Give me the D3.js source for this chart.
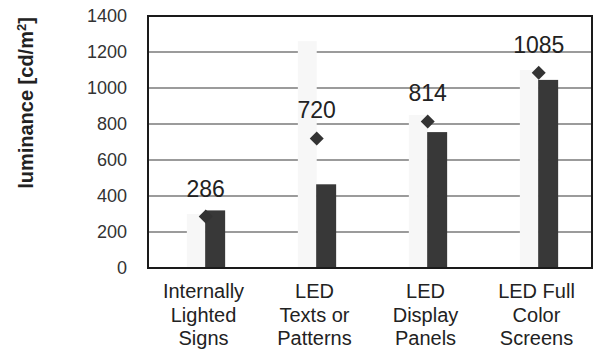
<!DOCTYPE html>
<html>
<head>
<meta charset="utf-8">
<script src="https://cdn.jsdelivr.net/npm/d3@7/dist/d3.min.js"></script>
<style>
  html, body { margin: 0; padding: 0; background: #fff; }
  svg { display: block; font-family: Arial, "Liberation Sans", sans-serif; }
</style>
</head>
<body>
<svg id="chart" width="596" height="351"></svg>
<script>
// Luminance by sign type
const categories = [
  ["Internally", "Lighted", "Signs"],
  ["LED", "Texts or", "Patterns"],
  ["LED", "Display", "Panels"],
  ["LED Full", "Color", "Screens"]
];
const upperValues = [300, 1260, 850, 1100];   // pale background bars
const barValues = [320, 465, 755, 1045];      // dark bars
const meanValues = [286, 720, 814, 1085];     // diamonds with labels
const yTicks = [0, 200, 400, 600, 800, 1000, 1200, 1400];

const svg = d3.select("#chart");
const plot = { left: 148, right: 592, top: 16, bottom: 268 };

const keys = categories.map((c, i) => i);
const x = d3.scaleBand().domain(keys).range([plot.left, plot.right]).padding(0);
const y = d3.scaleLinear().domain([0, 1400]).range([plot.bottom, plot.top]);
const bw = x.bandwidth();

// Grid lines
svg.append("g")
  .selectAll("line")
  .data(yTicks.filter(t => t > 0 && t < 1400))
  .join("line")
  .attr("x1", plot.left).attr("x2", plot.right)
  .attr("y1", d => y(d)).attr("y2", d => y(d))
  .attr("stroke", "#7a7a7a").attr("stroke-width", 1.5);

// Pale bars
svg.append("g")
  .selectAll("rect")
  .data(upperValues)
  .join("rect")
  .attr("x", (d, i) => x(i) + bw * 0.35)
  .attr("width", bw * 0.17)
  .attr("y", d => y(d))
  .attr("height", d => y(0) - y(d))
  .attr("fill", "#f7f7f7");

// Dark bars
svg.append("g")
  .selectAll("rect")
  .data(barValues)
  .join("rect")
  .attr("x", (d, i) => x(i) + bw * 0.515)
  .attr("width", bw * 0.18)
  .attr("y", d => y(d))
  .attr("height", d => y(0) - y(d))
  .attr("fill", "#383838");

// Plot frame
svg.append("rect")
  .attr("x", plot.left).attr("y", plot.top)
  .attr("width", plot.right - plot.left).attr("height", plot.bottom - plot.top)
  .attr("fill", "none").attr("stroke", "#1a1a1a").attr("stroke-width", 2);

// Y axis labels
const yAxis = d3.axisLeft(y).tickValues(yTicks).tickFormat(d3.format("d")).tickSize(0).tickPadding(21);
const gy = svg.append("g").attr("transform", `translate(${plot.left},0)`).call(yAxis);
gy.select(".domain").remove();
gy.selectAll("text")
  .attr("font-size", 18)
  .attr("fill", "#333")
  .attr("font-family", "Arial, 'Liberation Sans', sans-serif");

// Diamonds
const r = 7;
const mx = i => x(i) + bw * 0.52;
svg.append("g")
  .selectAll("path")
  .data(meanValues)
  .join("path")
  .attr("transform", (d, i) => `translate(${mx(i)},${y(d)})`)
  .attr("d", `M0,${-r}L${r},0L0,${r}L${-r},0Z`)
  .attr("fill", "#333");

// Value labels
svg.append("g")
  .selectAll("text")
  .data(meanValues)
  .join("text")
  .attr("x", (d, i) => mx(i))
  .attr("y", d => y(d) - 20)
  .attr("text-anchor", "middle")
  .attr("font-size", 23)
  .attr("fill", "#222")
  .text(d => d);

// Category labels
const cat = svg.append("g")
  .selectAll("text")
  .data(categories)
  .join("text")
  .attr("text-anchor", "middle")
  .attr("font-size", 20)
  .attr("fill", "#222");
cat.selectAll("tspan")
  .data((d, i) => d.map(line => ({ line, i })))
  .join("tspan")
  .attr("x", d => x(d.i) + bw / 2)
  .attr("y", (d, j) => 298 + j * 23.5)
  .text(d => d.line);

// Y axis title
const title = svg.append("text")
  .attr("transform", "translate(33,103) rotate(-90)")
  .attr("text-anchor", "middle")
  .attr("font-size", 20)
  .attr("font-weight", "bold")
  .attr("fill", "#222");
title.append("tspan").text("luminance [cd/m");
title.append("tspan").attr("font-size", 13).attr("dy", -7).text("2");
title.append("tspan").attr("dy", 7).text("]");
</script>
</body>
</html>
